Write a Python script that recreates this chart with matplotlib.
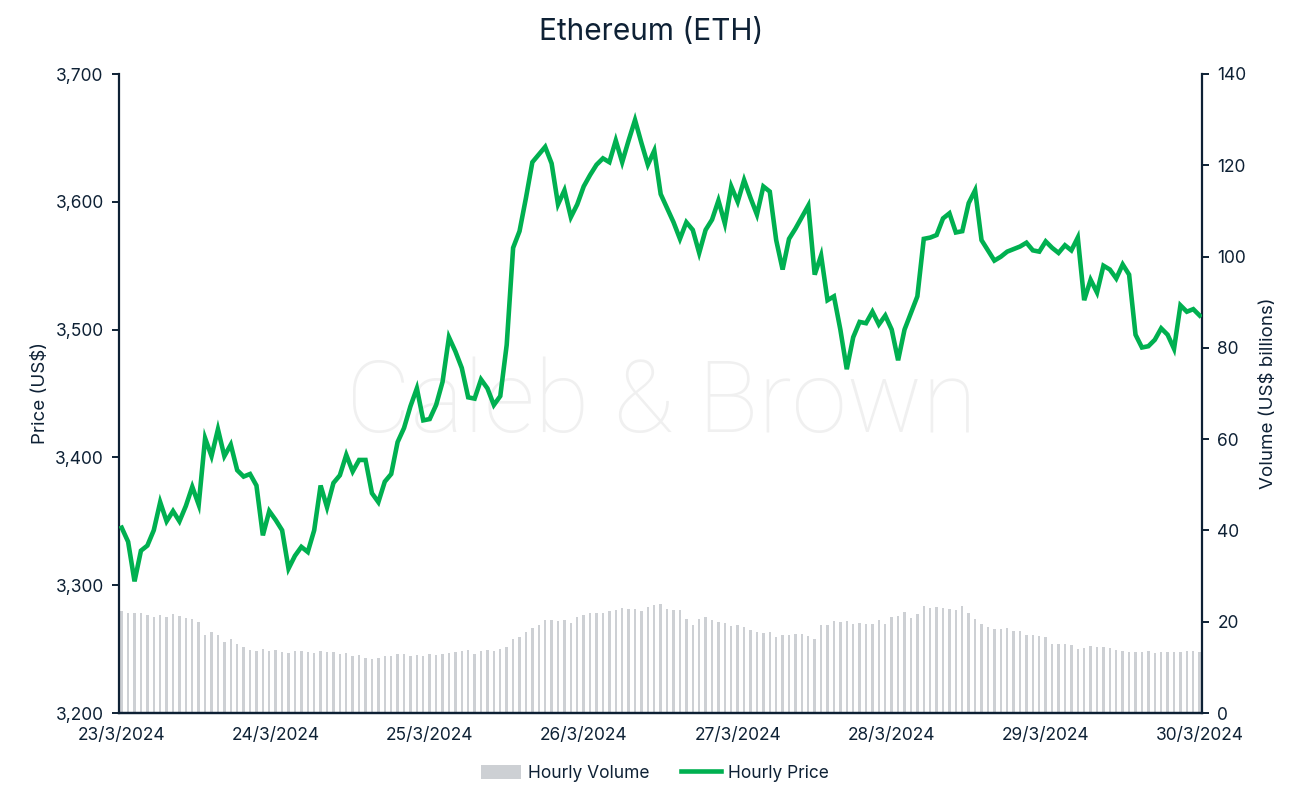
import matplotlib
matplotlib.use("Agg")
import matplotlib.pyplot as plt
from matplotlib.ticker import FuncFormatter, FixedLocator
from matplotlib.patches import Patch
from matplotlib.lines import Line2D
import numpy as np

plt.rcParams['font.family'] = ['Inter', 'DejaVu Sans']

title = "Ethereum (ETH)"
date_labels = ["23/3/2024", "24/3/2024", "25/3/2024", "26/3/2024",
               "27/3/2024", "28/3/2024", "29/3/2024", "30/3/2024"]

# Hourly price (US$), 23/3/2024 00:00 .. 30/3/2024 00:00
price = [
    3345, 3334, 3303, 3327, 3331, 3343, 3365, 3350, 3358, 3350, 3362, 3377,
    3363, 3415, 3401, 3422, 3401, 3410, 3390, 3385, 3387, 3378, 3339, 3358,
    3351, 3343, 3313, 3323, 3330, 3326, 3343, 3378, 3361, 3380, 3386, 3402,
    3389, 3398, 3398, 3372, 3365, 3381, 3387, 3412, 3423, 3440, 3454, 3429,
    3430, 3441, 3459, 3494, 3483, 3470, 3447, 3446, 3461, 3454, 3441, 3448,
    3488, 3564, 3577, 3603, 3631, 3637, 3643, 3630, 3598, 3609, 3588, 3598,
    3612, 3621, 3629, 3634, 3631, 3648, 3631, 3648, 3664, 3646, 3629, 3640,
    3606, 3595, 3584, 3571, 3584, 3578, 3560, 3578, 3586, 3601, 3583, 3612,
    3600, 3617, 3603, 3590, 3612, 3608, 3570, 3547, 3571, 3579, 3588, 3597,
    3543, 3558, 3523, 3526, 3500, 3469, 3494, 3506, 3505, 3514, 3504, 3511,
    3500, 3476, 3500, 3513, 3526, 3571, 3572, 3574, 3587, 3591, 3576, 3577,
    3599, 3609, 3570, 3562, 3554, 3557, 3561, 3563, 3565, 3568, 3562, 3561,
    3569, 3564, 3560, 3566, 3562, 3572, 3523, 3539, 3529, 3550, 3547, 3540,
    3551, 3543, 3496, 3486, 3487, 3492, 3501, 3496, 3485, 3519, 3514, 3516,
    3511,
]

# Hourly volume (US$ billions)
volume = [
    22.3, 21.9, 21.9, 21.9, 21.5, 21.0, 21.5, 21.0, 21.7, 21.2, 20.8, 20.6,
    19.9, 17.1, 17.7, 17.1, 15.6, 16.2, 15.1, 14.5, 13.8, 13.6, 14.0, 13.6,
    13.8, 13.4, 13.1, 13.6, 13.6, 13.4, 13.1, 13.6, 13.4, 13.4, 12.9, 13.1,
    12.5, 12.7, 12.0, 11.8, 12.0, 12.5, 12.5, 12.9, 12.9, 12.5, 12.7, 12.5,
    12.9, 12.7, 12.9, 13.1, 13.4, 13.6, 13.8, 12.9, 13.6, 13.8, 13.6, 14.0,
    14.5, 16.2, 16.6, 17.7, 18.6, 19.3, 20.4, 20.4, 20.2, 20.4, 19.7, 21.0,
    21.5, 21.9, 21.9, 21.9, 22.3, 22.6, 23.0, 22.8, 22.8, 22.3, 23.2, 23.7,
    23.9, 22.8, 22.6, 22.6, 20.6, 19.3, 20.6, 21.0, 20.4, 19.9, 19.7, 19.1,
    19.3, 18.8, 18.2, 17.7, 17.5, 17.7, 16.6, 17.1, 17.1, 17.3, 17.3, 16.8,
    16.2, 19.3, 19.3, 20.2, 19.9, 20.2, 19.5, 19.7, 19.5, 19.5, 20.4, 19.5,
    21.0, 21.2, 22.1, 20.8, 21.7, 23.4, 23.0, 23.2, 23.0, 22.8, 22.6, 23.4,
    21.9, 20.6, 19.5, 18.8, 18.4, 18.4, 18.6, 18.0, 18.0, 17.1, 17.1, 16.8,
    16.6, 15.1, 15.1, 15.1, 14.9, 14.0, 14.2, 14.7, 14.5, 14.5, 14.2, 13.8,
    13.6, 13.4, 13.4, 13.4, 13.6, 13.1, 13.4, 13.4, 13.4, 13.4, 13.6, 13.6,
    13.4,
]

NAVY = '#0e2135'
GREEN = '#00b050'
GRAY = '#cdd0d4'

hours = np.arange(len(price))

fig = plt.figure(figsize=(13.02, 8.02), dpi=100)
ax = fig.add_axes([119/1302, 89/802, (1202-119)/1302, (713-74)/802])
ax2 = ax.twinx()

ax2.bar(hours, volume, width=0.38, color=GRAY, zorder=2)
ax2.text(0.501, 0.483, "Caleb & Brown", transform=ax2.transAxes,
         ha='center', va='center', fontsize=72, color='#f0f0f0',
         family=['Roboto', 'DejaVu Sans'], fontweight='light', zorder=0)

ax.plot(hours, price, color=GREEN, lw=3.3, solid_joinstyle='miter', zorder=3)
ax.set_zorder(ax2.get_zorder() + 1)
ax.patch.set_visible(False)

ax.set_xlim(-0.42, 168.36)
ax.set_ylim(3200, 3700)
ax2.set_ylim(0, 140)
ax.set_yticks(np.arange(3200, 3701, 100))
ax2.set_yticks(np.arange(0, 141, 20))
ax.yaxis.set_major_formatter(FuncFormatter(lambda v, p: f"{int(v):,}"))
ax.xaxis.set_major_locator(FixedLocator(np.arange(0, 169, 24)))
ax.set_xticklabels(date_labels)

for a in (ax, ax2):
    a.spines['top'].set_visible(False)
    for s in ('left', 'right', 'bottom'):
        a.spines[s].set_color(NAVY)
        a.spines[s].set_linewidth(1.6)
    a.tick_params(colors=NAVY, labelsize=12.5, width=1.4, length=5)
ax.spines['right'].set_visible(False)
ax2.spines['left'].set_visible(False)
ax.tick_params(axis='x', length=0, pad=10)
ax.tick_params(axis='y', pad=6)
ax2.tick_params(axis='y', pad=6)

ax.set_ylabel("Price (US$)", color=NAVY, fontsize=13.5, labelpad=4)
ax2.set_ylabel("Volume (US$ billions)", color=NAVY, fontsize=13.5, labelpad=10)

fig.suptitle(title, color=NAVY, fontsize=21.5, y=0.977)

handles = [Patch(facecolor=GRAY, edgecolor='none'),
           Line2D([0], [0], color=GREEN, lw=3.3)]
fig.legend(handles, ["Hourly Volume", "Hourly Price"], loc='center',
           bbox_to_anchor=(0.503, 0.036), ncol=2, frameon=False,
           fontsize=12.5, handlelength=2.3, handleheight=0.9,
           columnspacing=1.8, handletextpad=0.4, labelcolor=NAVY)

fig.savefig("out.png", dpi=100)
